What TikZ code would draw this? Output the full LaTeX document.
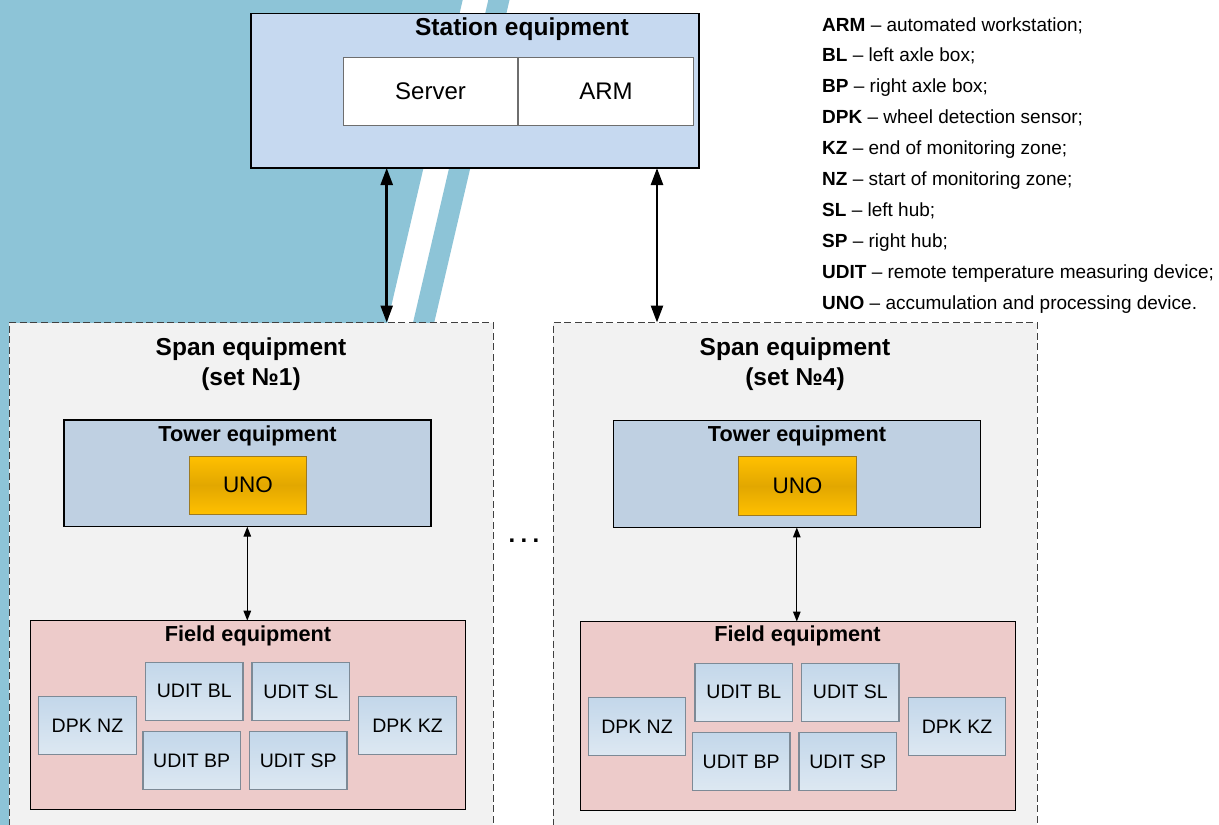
\documentclass[tikz,border=0pt]{standalone}
\usepackage{fontspec}
\setmainfont{Liberation Sans}
\usetikzlibrary{arrows.meta}
\definecolor{tealbg}{HTML}{8DC4D7}
\definecolor{stationfill}{HTML}{C6D9F0}
\definecolor{spanfill}{HTML}{F2F2F2}
\definecolor{towerfill}{HTML}{BFD0E2}
\definecolor{fieldfill}{HTML}{EDCBCA}
\definecolor{dashgray}{HTML}{404040}
\definecolor{srvborder}{HTML}{6E6E6E}
\definecolor{unotop}{HTML}{FFC000}
\definecolor{unomid}{HTML}{E2A700}
\definecolor{unoborder}{HTML}{9C7A24}
\definecolor{devtop}{HTML}{C3D7EA}
\definecolor{devbot}{HTML}{DDE8F2}
\definecolor{devborder}{HTML}{7D8A96}
\tikzset{
  box/.style={draw, rectangle, inner sep=0pt, outer sep=0pt},
  stationbox/.style={box, fill=stationfill, draw=black, line width=1.1pt},
  whitebox/.style={box, fill=white, draw=srvborder, line width=1pt, font=\fontsize{24}{28}\selectfont},
  spanbox/.style={box, fill=spanfill, draw=dashgray, line width=1pt, dash pattern=on 7pt off 3.5pt},
  towerbox/.style={box, fill=towerfill, draw=black, line width=1.1pt},
  fieldbox/.style={box, fill=fieldfill, draw=black, line width=1.1pt},
  unobox/.style={box, top color=unotop, bottom color=unotop, middle color=unomid, draw=unoborder, line width=1pt, font=\fontsize{22.5}{26}\selectfont},
  devbox/.style={box, top color=devtop, bottom color=devbot, draw=devborder, line width=1.2pt, minimum width=97.5pt, minimum height=58pt, font=\fontsize{19.5}{23}\selectfont},
  titlebig/.style={anchor=base, inner sep=0pt, font=\fontsize{24.5}{29}\selectfont\bfseries},
  titlemid/.style={anchor=base, inner sep=0pt, font=\fontsize{21.7}{26}\selectfont\bfseries},
  legend/.style={anchor=base west, inner sep=0pt, font=\fontsize{19}{23}\selectfont},
  bigarrow/.style={line width=2.5pt, {Triangle[length=17pt,width=12pt]}-{Triangle[length=17pt,width=12pt]}},
  smallarrow/.style={line width=1.3pt, {Triangle[length=10pt,width=7.5pt]}-{Triangle[length=10pt,width=7.5pt]}},
}
% #1 suffix, #2 span dx, #3 inner dx, #4 inner dy, #5 set number
\newcommand\spanset[5]{%
  \node[spanbox, minimum width=484pt, minimum height=520pt] (span#1) at (251+#2, 582.5) {};
  \node[titlebig] (spanT#1) at (251+#2, 355) {Span equipment};
  \node[titlebig] (spanS#1) at (251+#2, 385) {(set №#5)};
  \begin{scope}[shift={(#3,#4)}]
    \node[towerbox, minimum width=367pt, minimum height=106.7pt] (tower#1) at (247.5, 473.3) {};
    \node[titlemid] (towerT#1) at (247.5, 441) {Tower equipment};
    \node[unobox, minimum width=117.4pt, minimum height=58.3pt] (uno#1) at (248, 485.2) {UNO};
    \node[fieldbox, minimum width=435pt, minimum height=188.6pt] (field#1) at (248.2, 715) {};
    \node[titlemid] (fieldT#1) at (248, 641) {Field equipment};
    \node[devbox] (nz#1) at (87.5, 725.8) {DPK NZ};
    \node[devbox] (bl#1) at (194.3, 691.3) {UDIT BL};
    \node[devbox] (sl#1) at (300.8, 691.3) {UDIT SL};
    \node[devbox] (bp#1) at (191.7, 760.8) {UDIT BP};
    \node[devbox] (sp#1) at (298.3, 760.8) {UDIT SP};
    \node[devbox] (kz#1) at (407.5, 725.8) {DPK KZ};
    \coordinate (sa#1) at (247.3, 0);
    \draw[smallarrow] (tower#1.south -| sa#1) -- (field#1.north -| sa#1);
  \end{scope}
}
\begin{document}
\begin{tikzpicture}[x=1pt, y=-1pt]
  \useasboundingbox (0,0) rectangle (1219,825);
  \clip (0,0) rectangle (1219,825);
  \fill[white] (0,0) rectangle (1219,825);
  % background decoration
  \fill[tealbg] (0,0) -- (462.7,0) -- (270.1,825) -- (0,825) -- cycle;
  \fill[tealbg] (488.3,0) -- (509.5,0) -- (317,825) -- (295.8,825) -- cycle;
  % station
  \node[stationbox, minimum width=448pt, minimum height=154.5pt] (station) at (475, 90.75) {};
  \node[titlebig] (stationT) at (522, 35) {Station equipment};
  \node[whitebox, minimum width=174.4pt, minimum height=67.6pt] (server) at (430.5, 91.5) {Server};
  \node[whitebox, minimum width=174.6pt, minimum height=67.6pt] (arm) at (606, 91.5) {ARM};
  % span sets
  \spanset{1}{0}{0}{0}{1}
  \spanset{2}{544}{549.5}{0.8}{4}
  % big arrows
  \coordinate (ax1) at (386.7, 0);
  \coordinate (ax2) at (657, 0);
  \draw[bigarrow] (station.south -| ax1) -- (span1.north -| ax1);
  \draw[bigarrow] (station.south -| ax2) -- (span2.north -| ax2);
  % dots
  \node[inner sep=0pt, font=\fontsize{24}{28}\selectfont\bfseries] (dots) at (524, 541) {.\hspace{5.3pt}.\hspace{5.3pt}.};
  % legend
  \node[legend] (l1) at (822, 31.0) {\textbf{ARM} – automated workstation;};
  \node[legend] (l2) at (822, 61.9) {\textbf{BL} – left axle box;};
  \node[legend] (l3) at (822, 92.9) {\textbf{BP} – right axle box;};
  \node[legend] (l4) at (822, 123.8) {\textbf{DPK} – wheel detection sensor;};
  \node[legend] (l5) at (822, 154.8) {\textbf{KZ} – end of monitoring zone;};
  \node[legend] (l6) at (822, 185.7) {\textbf{NZ} – start of monitoring zone;};
  \node[legend] (l7) at (822, 216.7) {\textbf{SL} – left hub;};
  \node[legend] (l8) at (822, 247.6) {\textbf{SP} – right hub;};
  \node[legend] (l9) at (822, 278.6) {\textbf{UDIT} – remote temperature measuring device;};
  \node[legend] (l10) at (822, 309.5) {\textbf{UNO} – accumulation and processing device.};
\end{tikzpicture}
\end{document}
